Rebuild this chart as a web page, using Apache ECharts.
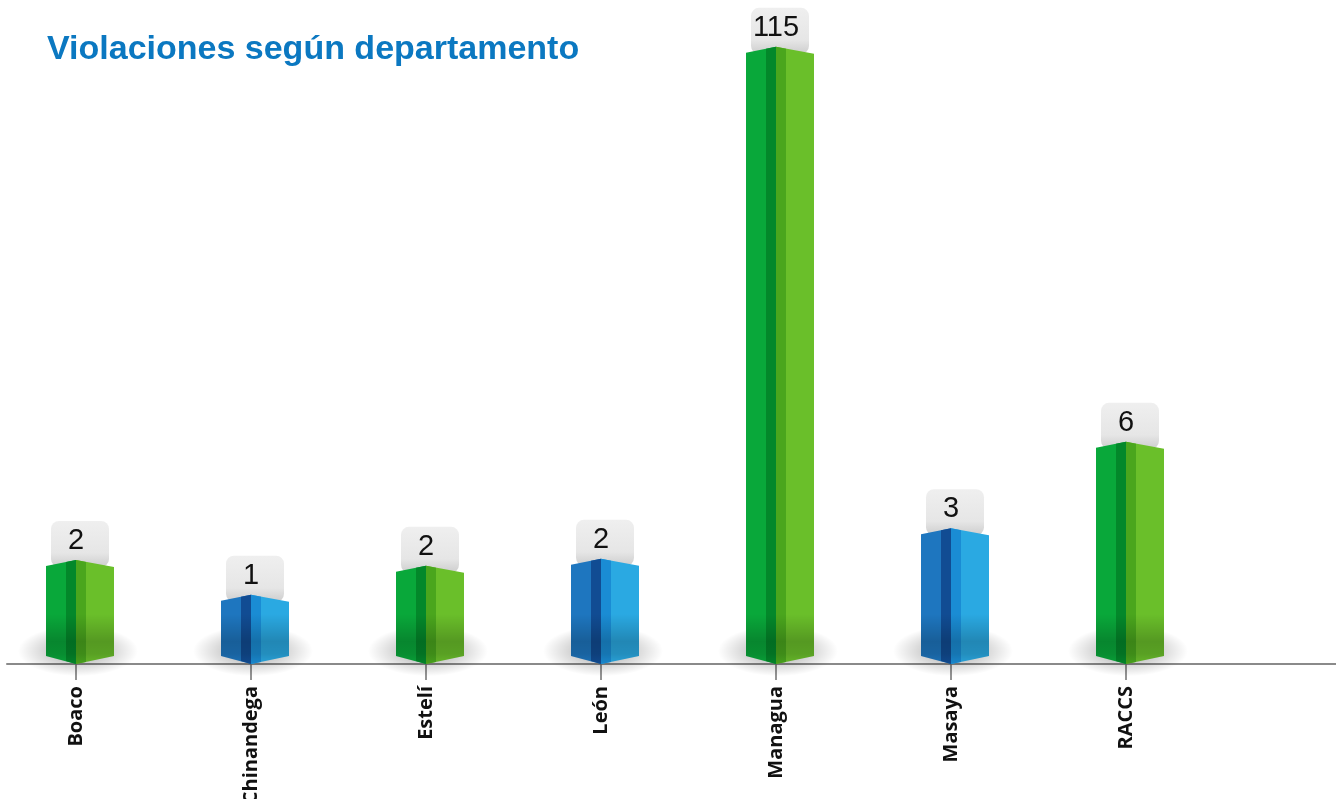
<!DOCTYPE html>
<html>
<head>
<meta charset="utf-8">
<title>Violaciones según departamento</title>
<script src="https://cdn.jsdelivr.net/npm/echarts@6/dist/echarts.min.js"></script>
<style>
  html, body { margin: 0; padding: 0; background: #fff; }
  #main { width: 1336px; height: 799px; }
</style>
</head>
<body>
<div id="main"></div>
<script>
// data
var categories = ['Boaco', 'Chinandega', 'Estelí', 'León', 'Managua', 'Masaya', 'RACCS'];
var counts = [2, 1, 2, 2, 115, 3, 6];                        // printed above each bar
var barLength = [19.4, 12.9, 18.3, 19.6, 115, 25.3, 41.4];  // bar length as drawn (original is not to scale)

var green = {left: '#09a83a', leftStripe: '#03882a', rightStripe: '#4aa61d', right: '#6abf2a'};
var blue  = {left: '#1e76bf', leftStripe: '#114c93', rightStripe: '#1a8cd4', right: '#2aa9e2'};

var chart = echarts.init(document.getElementById('main'));

// one 3D-looking prism per category, front corner sits on the tick
function renderBar(params, api) {
    var idx = api.value(0);
    var top = api.coord([idx, api.value(1)]);
    var base = api.coord([idx, 0]);
    var cx = top[0], ty = top[1], by = base[1];
    var pal = idx % 2 === 0 ? green : blue;

    var boxFill = new echarts.graphic.LinearGradient(0, 0, 0, 1, [
        {offset: 0, color: '#efefef'},
        {offset: 0.7, color: '#e6e6e6'},
        {offset: 1, color: '#cdcdcd'}
    ]);
    var halo = new echarts.graphic.RadialGradient(0.5, 0.5, 0.5, [
        {offset: 0, color: 'rgba(0,0,0,0.45)'},
        {offset: 0.5, color: 'rgba(0,0,0,0.18)'},
        {offset: 1, color: 'rgba(0,0,0,0)'}
    ]);
    var dark = new echarts.graphic.LinearGradient(0, by - 50, 0, by, [
        {offset: 0, color: 'rgba(0,0,0,0)'},
        {offset: 0.55, color: 'rgba(0,0,0,0.2)'},
        {offset: 0.8, color: 'rgba(0,0,0,0.16)'},
        {offset: 1, color: 'rgba(0,0,0,0.04)'}
    ], true);

    return {
        type: 'group',
        children: [
            // label box + number
            {type: 'rect', shape: {x: cx - 25, y: ty - 39, width: 58, height: 46, r: 8}, style: {fill: boxFill}},
            {type: 'text', style: {
                text: String(api.value(2)), x: cx, y: ty - 19,
                textAlign: 'center', textVerticalAlign: 'middle', align: 'center', verticalAlign: 'middle',
                font: '29px "Liberation Sans", Arial, sans-serif', fill: '#111'
            }},
            // shadow on the floor
            {type: 'circle', shape: {cx: 0, cy: 0, r: 60}, x: cx + 2, y: by - 13, scaleY: 0.42, style: {fill: halo}},
            // faces
            {type: 'polygon', shape: {points: [[cx - 30, ty + 6], [cx, ty], [cx, by], [cx - 30, by - 8]]}, style: {fill: pal.left}},
            {type: 'polygon', shape: {points: [[cx - 10, ty + 2], [cx, ty], [cx, by], [cx - 10, by - 3]]}, style: {fill: pal.leftStripe}},
            {type: 'polygon', shape: {points: [[cx, ty], [cx + 38, ty + 7], [cx + 38, by - 8], [cx, by]]}, style: {fill: pal.right}},
            {type: 'polygon', shape: {points: [[cx, ty], [cx + 10, ty + 2], [cx + 10, by - 2], [cx, by]]}, style: {fill: pal.rightStripe}},
            // darker band near the bottom
            {type: 'polygon', shape: {points: [[cx - 30, ty + 6], [cx, ty], [cx + 38, ty + 7], [cx + 38, by - 8], [cx, by], [cx - 30, by - 8]]}, style: {fill: dark}}
        ]
    };
}

var seriesData = categories.map(function (name, i) {
    return [i, barLength[i], counts[i]];
});

var option = {
    backgroundColor: '#ffffff',
    animation: false,
    title: {
        text: 'Violaciones según departamento',
        left: 42,
        top: 28,
        textStyle: {
            color: '#0b78c1',
            fontSize: 34,
            fontWeight: 'bold',
            fontFamily: '"Liberation Sans", Arial, sans-serif'
        }
    },
    // grid 0 only carries the long base line, grid 1 holds the bars
    grid: [
        {left: 7, right: 0, top: 20, bottom: 135, outerBoundsMode: 'none'},
        {left: -11.5, width: 1225, top: 20, bottom: 135, outerBoundsMode: 'none'}
    ],
    xAxis: [{
        gridIndex: 0,
        type: 'value',
        min: 0,
        max: 1,
        axisLine: {show: true, lineStyle: {color: '#8a8a8a', width: 2}},
        axisTick: {show: false},
        axisLabel: {show: false},
        splitLine: {show: false}
    }, {
        gridIndex: 1,
        type: 'category',
        data: categories,
        boundaryGap: true,
        axisLine: {show: false},
        axisTick: {
            show: true,
            alignWithLabel: true,
            interval: 0,
            length: 16,
            lineStyle: {color: '#6f6f6f', width: 1.5}
        },
        axisLabel: {
            rotate: 90,
            margin: 22,
            interval: 0,
            color: '#111',
            fontSize: 20,
            fontWeight: 'bold',
            fontFamily: '"Open Sans", sans-serif'
        }
    }],
    yAxis: [
        {gridIndex: 0, type: 'value', min: 0, max: 1, show: false},
        {gridIndex: 1, type: 'value', min: 0, max: 120, show: false}
    ],
    series: [{
        type: 'custom',
        xAxisIndex: 1,
        yAxisIndex: 1,
        renderItem: renderBar,
        encode: {x: 0, y: 1},
        data: seriesData
    }]
};

chart.setOption(option);
</script>
</body>
</html>
